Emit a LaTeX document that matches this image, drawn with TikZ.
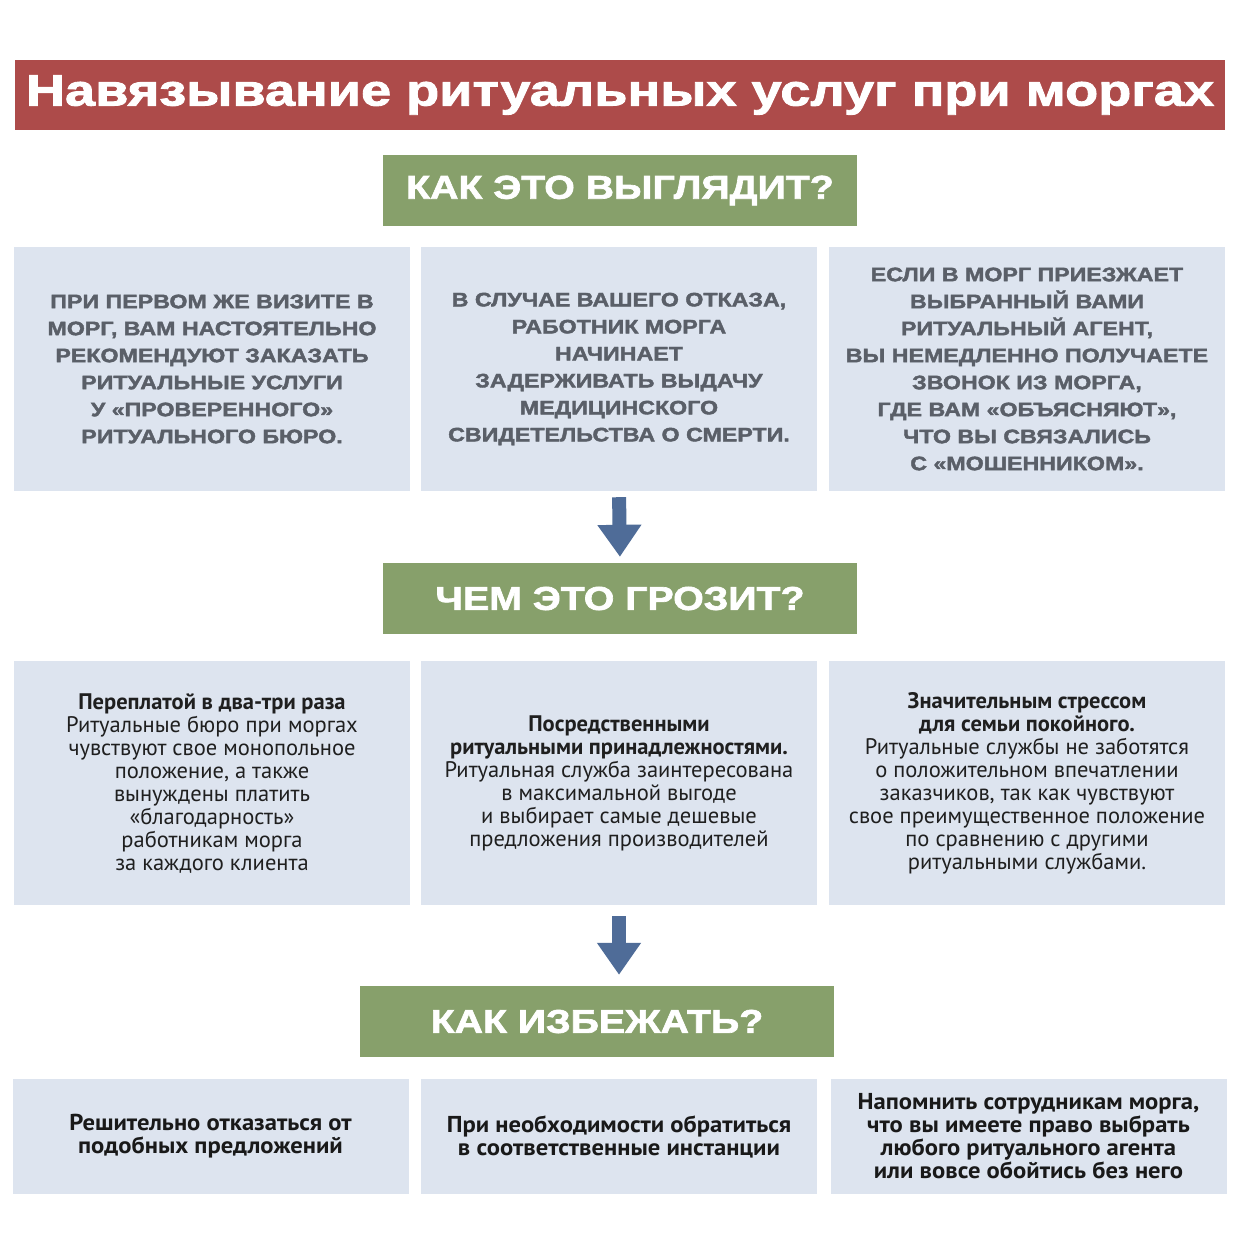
\documentclass[tikz,border=0pt]{standalone}
\usepackage{fontspec}
\newfontfamily\capsfont{Liberation Sans}[FakeBold=2, FakeStretch=1.19]
\newfontfamily\titlefont{Liberation Sans}[FakeBold=2, FakeStretch=1.23]
\newfontfamily\bodyfont{PT Sans}
\newfontfamily\tipfont{PT Sans}[FakeStretch=1.07]
\definecolor{titlered}{RGB}{173, 75, 74}
\definecolor{headgreen}{RGB}{135, 160, 107}
\definecolor{cardblue}{RGB}{221, 228, 239}
\definecolor{capsgray}{RGB}{90, 95, 104}
\definecolor{arrowblue}{RGB}{79, 108, 152}
\usetikzlibrary{arrows.meta, positioning}

\tikzset{
  titlebox/.style={fill=titlered, minimum width=1210pt, minimum height=70pt, text=white,
    font=\titlefont\bfseries\fontsize{44}{48}\selectfont},
  headbox/.style={fill=headgreen, minimum width=474pt, minimum height=71pt, text=white,
    font=\capsfont\bfseries\fontsize{33}{36}\selectfont},
  card/.style={fill=cardblue, minimum width=396pt, minimum height=244pt, align=center, inner sep=4pt},
  capscard/.style={card, text=capsgray, font=\capsfont\bfseries\fontsize{19.5}{27}\selectfont},
  bodycard/.style={card, text=black!88, font=\bodyfont\fontsize{22.5}{23}\selectfont},
  tipcard/.style={card, minimum height=115pt, text=black!90, font=\tipfont\bfseries\fontsize{23}{23}\selectfont},
  bigarrow/.style={arrowblue, line width=14pt, shorten <=6pt, shorten >=6pt,
    -{Triangle[width=42pt, length=32pt]}}
}

\begin{document}
\begin{tikzpicture}[x=1pt, y=-1pt]
  \useasboundingbox[fill=white] (0, 0) rectangle (1237, 1254);

  % Title
  \node[titlebox] (title) at (620, 95) {Навязывание ритуальных услуг при моргах};

  % How it looks
  \node[headbox] (looks) at (620, 190.5) {КАК ЭТО ВЫГЛЯДИТ?};
  \node[capscard] (looksA) at (212, 369) {ПРИ ПЕРВОМ ЖЕ ВИЗИТЕ В\\МОРГ, ВАМ НАСТОЯТЕЛЬНО\\РЕКОМЕНДУЮТ ЗАКАЗАТЬ\\РИТУАЛЬНЫЕ УСЛУГИ\\У «ПРОВЕРЕННОГО»\\РИТУАЛЬНОГО БЮРО.};
  \node[capscard] (looksB) at (619, 369) {В СЛУЧАЕ ВАШЕГО ОТКАЗА,\\РАБОТНИК МОРГА\\НАЧИНАЕТ\\ЗАДЕРЖИВАТЬ ВЫДАЧУ\\МЕДИЦИНСКОГО\\СВИДЕТЕЛЬСТВА О СМЕРТИ.};
  \node[capscard] (looksC) at (1027, 369) {ЕСЛИ В МОРГ ПРИЕЗЖАЕТ\\ВЫБРАННЫЙ ВАМИ\\РИТУАЛЬНЫЙ АГЕНТ,\\ВЫ НЕМЕДЛЕННО ПОЛУЧАЕТЕ\\ЗВОНОК ИЗ МОРГА,\\ГДЕ ВАМ «ОБЪЯСНЯЮТ»,\\ЧТО ВЫ СВЯЗАЛИСЬ\\С «МОШЕННИКОМ».};

  % What it threatens
  \node[headbox] (threat) at (620, 598.5) {ЧЕМ ЭТО ГРОЗИТ?};
  \draw[bigarrow] (looksB.south) -- (threat.north);
  \node[bodycard] (threatA) at (212, 783) {\textbf{Переплатой в два-три раза}\\Ритуальные бюро при моргах\\чувствуют свое монопольное\\положение, а также\\вынуждены платить\\«благодарность»\\работникам морга\\за каждого клиента};
  \node[bodycard] (threatB) at (619, 783) {\textbf{Посредственными}\\\textbf{ритуальными принадлежностями.}\\Ритуальная служба заинтересована\\в максимальной выгоде\\и выбирает самые дешевые\\предложения производителей};
  \node[bodycard] (threatC) at (1027, 783) {\textbf{Значительным стрессом}\\\textbf{для семьи покойного.}\\Ритуальные службы не заботятся\\о положительном впечатлении\\заказчиков, так как чувствуют\\свое преимущественное положение\\по сравнению с другими\\ритуальными службами.};

  % How to avoid
  \node[headbox] (avoid) at (597, 1021.5) {КАК ИЗБЕЖАТЬ?};
  \coordinate (avoidtop) at (threatB.south |- avoid.north);
  \draw[bigarrow, shorten <=11pt, shorten >=11pt] (threatB.south) -- (avoidtop);
  \node[tipcard] (avoidA) at (210.5, 1136.5) {Решительно отказаться от\\подобных предложений};
  \node[tipcard] (avoidB) at (619, 1136.5) {При необходимости обратиться\\в соответственные инстанции};
  \node[tipcard] (avoidC) at (1028.5, 1136.5) {Напомнить сотрудникам морга,\\что вы имеете право выбрать\\любого ритуального агента\\или вовсе обойтись без него};
\end{tikzpicture}
\end{document}
